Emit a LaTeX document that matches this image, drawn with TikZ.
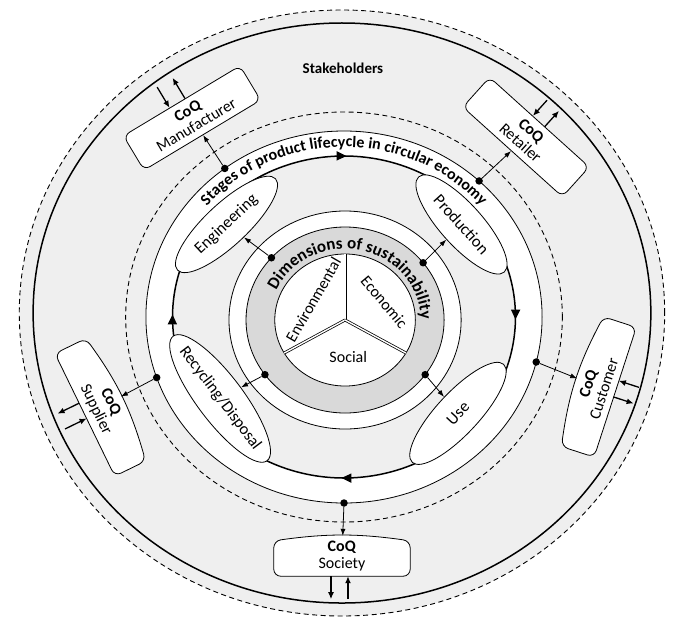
\documentclass[tikz,border=0pt]{standalone}
\usepackage{fontspec}
\setmainfont{Carlito}
\usetikzlibrary{arrows.meta,calc,shapes.geometric,decorations.text,decorations.markings}

\definecolor{bggray}{HTML}{EFEFEF}
\definecolor{ringgray}{HTML}{D9D9D9}

\pgfdeclarelayer{rings}
\pgfdeclarelayer{outline}
\pgfsetlayers{rings,outline,main}

\begin{document}
\begin{tikzpicture}[x=1.065pt,y=1pt,
  thinline/.style={line width=0.8pt},
  thickline/.style={line width=1.5pt},
  dashline/.style={line width=0.9pt,dash pattern=on 5pt off 3.5pt},
  dot/.style={circle,fill=black,inner sep=0pt,minimum size=7.5pt},
  stage/.style={ellipse,draw,thinline,fill=white,inner sep=0pt,font=\fontsize{16.5}{18}\selectfont},
  coqbox/.style={rectangle,minimum width=136pt,minimum height=40pt,inner sep=0pt,align=center,font=\fontsize{16}{16.5}\selectfont},
  outer/.style={thinline,fill=white,rounded corners=7pt},
  link/.style={-{Latex[length=7pt,width=5pt]},line width=0.8pt},
  flow/.style={-{Latex[length=7pt,width=6pt]},line width=1.3pt},
  cycletip/.style={decoration={markings,
      mark=at position 0.125 with {\arrow{Triangle[length=10pt,width=9pt]}},
      mark=at position 0.375 with {\arrow{Triangle[length=10pt,width=9pt]}},
      mark=at position 0.625 with {\arrow{Triangle[length=10pt,width=9pt]}},
      mark=at position 0.875 with {\arrow{Triangle[length=10pt,width=9pt]}}},
    postaction={decorate}}]

\useasboundingbox (-323,-304) rectangle (313.6,317);

\coordinate (oc) at (-1.9,4);
\coordinate (lc) at (0,0);
\coordinate (dc) at (1,-3);

\begin{pgfonlayer}{rings}
\fill[white] (-323,-304) rectangle (313.6,317);
% stakeholders
\draw[dashline,fill=bggray] (oc) circle (303);
\draw[thickline] (oc) circle (290);
\draw[dashline] (lc) circle (205);
% lifecycle
\draw[thinline,fill=white] (lc) circle (186);
\draw[thickline,fill=bggray,cycletip] ([shift={(45:161)}]lc) arc[start angle=45,end angle=-315,radius=161];
% dimensions
\draw[thinline,fill=white] (dc) circle (109);
\draw[thinline,fill=ringgray] (dc) circle (93);
\draw[thinline,fill=white] (dc) circle (66);
\foreach \a in {90,210,330}
  \draw[line width=0.75pt,double=white,double distance=1.4pt] (dc) -- ([shift={(\a:66)}]dc);
\end{pgfonlayer}

\node[font=\fontsize{15}{15}\selectfont\bfseries] (stake) at (-1,249) {Stakeholders};

\path[decorate,decoration={text along path,text align=center,
    text={|\fontsize{16}{16}\selectfont\bfseries|Stages of product lifecycle in circular economy}}]
  ([shift={(150:170)}]lc) arc[start angle=150,end angle=30,radius=170];
\path[decorate,decoration={text along path,text align=center,
    text={|\fontsize{17}{17}\selectfont\bfseries|Dimensions of sustainability}}]
  ([shift={(168:71)}]dc) arc[start angle=168,end angle=-12,radius=71];

\node[font=\fontsize{16}{16}\selectfont,rotate=60] (env) at ([shift={(146:36)}]dc) {Environmental};
\node[font=\fontsize{16}{16}\selectfont,rotate=-50] (eco) at ([shift={(26:41)}]dc) {Economic};
\node[font=\fontsize{16}{16}\selectfont] (soc) at ([shift={(3,-37)}]dc) {Social};

% stages
\node[stage,minimum width=134pt,minimum height=42pt,rotate=43] (eng) at (140:144) {Engineering};
\node[stage,minimum width=128pt,minimum height=42pt,rotate=-48] (pro) at (40:144) {Production};
\node[stage,minimum width=134pt,minimum height=42pt,rotate=47] (use) at (-42:144) {Use};
\node[stage,minimum width=156pt,minimum height=46pt,rotate=-53] (rec) at (215:142) {\makebox[0pt]{Recycling/Disposal}};

\foreach \n/\a in {d1/138,d2/38,d3/216,d4/324}
  \node[dot] (\n) at ([shift={(\a:93)}]dc) {};
\draw[link] (d1) -- (eng);
\draw[link] (d2) -- (pro);
\draw[link] (d3) -- (rec);
\draw[link] (d4) -- (use);

% CoQ boxes
\node[coqbox,draw,thinline,fill=white,rounded corners=7pt,rotate=31] (man) at (-142.7,199) {\textbf{CoQ}\\Manufacturer};
\node[coqbox,draw,thinline,fill=white,rounded corners=7pt,rotate=-42,minimum width=134pt] (ret) at (170.9,180) {\textbf{CoQ}\\Retailer};
\node[coqbox,rotate=72] (cus) at (236.6,-69) {\textbf{CoQ}\\Customer};
\node[coqbox,rotate=-64] (sup) at (-226.3,-89) {\textbf{CoQ}\\Supplier};
\node[coqbox] (sct) at (-1.9,-239) {\textbf{CoQ}\\Society};

\begin{pgfonlayer}{outline}
\draw[outer] (cus.south west) -- ($(cus.north west)!6pt!(cus.south west)$)
  to[bend left=10] ($(cus.north east)!6pt!(cus.south east)$) -- (cus.south east) -- cycle;
\draw[outer] (sup.south west) -- ($(sup.north west)!6pt!(sup.south west)$)
  to[bend left=10] ($(sup.north east)!6pt!(sup.south east)$) -- (sup.south east) -- cycle;
\draw[outer] (sct.south west) -- ($(sct.north west)!5pt!(sct.south west)$)
  to[bend left=8] ($(sct.north east)!5pt!(sct.south east)$) -- (sct.south east) -- cycle;
\end{pgfonlayer}

\foreach \n/\a in {p1/127,p2/47,p3/-14,p4/199,p5/270}
  \node[dot] (\n) at (\a:186) {};
\draw[link] (p1) -- (man);
\draw[link] (p2) -- (ret);
\draw[link] (p3) -- (cus);
\draw[link] (p4) -- (sup);
\draw[link] (p5) -- (sct);

% arrows between boxes and the stakeholder ring
\coordinate (manA) at ($(man.north)!14pt!(man.north west)$);
\coordinate (manB) at ($(man.north)!4pt!(man.north east)$);
\coordinate (manAo) at ($(manA)!24pt!-90:(man.north west)$);
\coordinate (manBo) at ($(manB)!24pt!-90:(man.north west)$);
\draw[flow] (manAo) -- (manA);
\draw[flow] (manB) -- (manBo);

\coordinate (retA) at ($(ret.north)!9pt!(ret.north west)$);
\coordinate (retB) at ($(ret.north)!7pt!(ret.north east)$);
\coordinate (retAo) at ($(retA)!21pt!-90:(ret.north west)$);
\coordinate (retBo) at ($(retB)!21pt!-90:(ret.north west)$);
\draw[flow] (retAo) -- (retA);
\draw[flow] (retB) -- (retBo);

\coordinate (cusA) at ($(cus.south)!12pt!(cus.south east)$);
\coordinate (cusB) at ($(cus.south)!5pt!(cus.south west)$);
\coordinate (cusAo) at ($(cusA)!21pt!90:(cus.south west)$);
\coordinate (cusBo) at ($(cusB)!21pt!90:(cus.south west)$);
\draw[flow] (cusAo) -- (cusA);
\draw[flow] (cusB) -- (cusBo);

\coordinate (supA) at ($(sup.south)!4pt!(sup.south east)$);
\coordinate (supB) at ($(sup.south)!13pt!(sup.south west)$);
\coordinate (supAo) at ($(supA)!24pt!90:(sup.south west)$);
\coordinate (supBo) at ($(supB)!24pt!90:(sup.south west)$);
\draw[flow] (supAo) -- (supA);
\draw[flow] (supB) -- (supBo);

\coordinate (sctA) at ($(sct.south)!6pt!(sct.south east)$);
\coordinate (sctB) at ($(sct.south)!11pt!(sct.south west)$);
\coordinate (sctAo) at ($(sctA)!23pt!90:(sct.south west)$);
\coordinate (sctBo) at ($(sctB)!23pt!90:(sct.south west)$);
\draw[flow] (sctAo) -- (sctA);
\draw[flow] (sctB) -- (sctBo);
\end{tikzpicture}
\end{document}
